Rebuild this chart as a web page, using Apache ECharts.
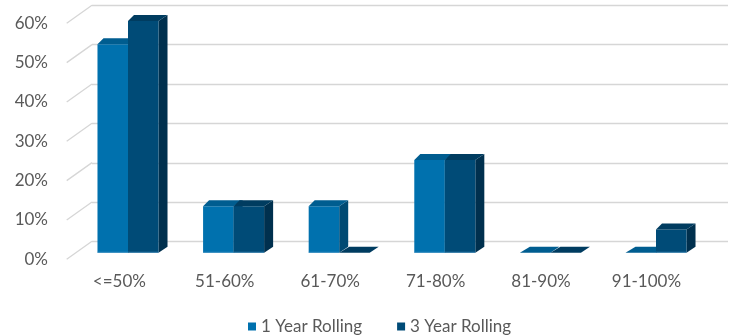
<!DOCTYPE html>
<html>
<head>
<meta charset="utf-8">
<script src="https://cdn.jsdelivr.net/npm/echarts@6/dist/echarts.min.js"></script>
<style>
  html, body { margin: 0; padding: 0; background: #ffffff; }
  #chart { width: 732px; height: 336px; }
</style>
</head>
<body>
<div id="chart"></div>
<script>
// Share of funds per range, rolling 1-year vs 3-year windows (in %)
const categories = ['<=50%', '51-60%', '61-70%', '71-80%', '81-90%', '91-100%'];
const oneYearRolling = [52.9, 11.8, 11.8, 23.5, 0, 0];
const threeYearRolling = [58.8, 11.8, 0, 23.5, 0, 5.9];
const seriesNames = ['1 Year Rolling', '3 Year Rolling'];
const yTicks = [0, 10, 20, 30, 40, 50, 60];

const FONT = 'Lato, "Open Sans", sans-serif';
const GRID_LINE = '#d6d6d6';
const TEXT = '#595959';

// Oblique offsets that fake the 3D depth
const WALL_DX = 25.3, WALL_DY = -18;     // front edge -> back wall
const BAR_DXL = 6, BAR_DXR = 9, BAR_DY = -6; // bar front face -> bar back face
const BAR_FRACTION = 0.289;              // one bar's width as share of the category band

// face colours per series: front, top, side
const palettes = [
  { front: '#0071ae', top: '#005d90', side: '#004a73' },
  { front: '#004b77', top: '#003c60', side: '#00304e' }
];

function barRenderer(seriesIdx) {
  const pal = palettes[seriesIdx];
  return function (params, api) {
    const idx = api.value(0);
    const val = api.value(1);
    const base = api.coord([idx, 0]);
    const top = api.coord([idx, val]);
    const band = api.size([1, 0])[0];
    const bw = band * BAR_FRACTION;
    const x0 = seriesIdx === 0 ? base[0] - bw : base[0];
    const x1 = x0 + bw;
    const yb = base[1];
    const yt = top[1];
    const children = [];
    if (yb - yt > 0.5) {
      children.push({
        type: 'polygon',
        shape: { points: [[x1, yt], [x1 + BAR_DXR, yt + BAR_DY], [x1 + BAR_DXR, yb + BAR_DY], [x1, yb]] },
        style: { fill: pal.side }
      });
      children.push({
        type: 'rect',
        shape: { x: x0, y: yt, width: bw, height: yb - yt },
        style: { fill: pal.front }
      });
      children.push({
        type: 'line',
        shape: { x1: x0, y1: yb - 0.5, x2: x1, y2: yb - 0.5 },
        style: { stroke: '#3d8fc2', lineWidth: 1, opacity: 0.6 }
      });
    }
    children.push({
      type: 'polygon',
      shape: { points: [[x0, yt], [x1, yt], [x1 + BAR_DXR, yt + BAR_DY], [x0 + BAR_DXL + (yb - yt > 0.5 ? 0 : 4), yt + BAR_DY]] },
      style: { fill: pal.top }
    });
    return { type: 'group', children: children };
  };
}

const chart = echarts.init(document.getElementById('chart'), null, { renderer: 'canvas' });

chart.setOption({
  animation: false,
  backgroundColor: '#ffffff',
  textStyle: { fontFamily: FONT },
  legend: {
    data: seriesNames,
    left: 243,
    top: 313,
    icon: 'rect',
    itemWidth: 8,
    itemHeight: 8,
    itemGap: 35,
    selectedMode: false,
    textStyle: { fontSize: 17, color: TEXT, fontFamily: FONT }
  },
  grid: [
    // back wall
    { left: 92, right: 4, top: 5, bottom: 94.3 },
    // front edge of the side wall (axis labels)
    { left: 66.7, right: 32.9, top: 23.3, bottom: 76.7 },
    // plane the bars stand in
    { left: 75.2, right: 23.2, top: 16.3, bottom: 83.3 }
  ],
  xAxis: [
    { gridIndex: 0, type: 'category', data: categories, show: false },
    {
      gridIndex: 1, type: 'category', data: categories,
      axisLine: { show: false }, axisTick: { show: false },
      axisLabel: { fontSize: 17, color: TEXT, margin: 14, fontFamily: FONT, interval: 0 }
    },
    { gridIndex: 2, type: 'category', data: categories, show: false }
  ],
  yAxis: [
    {
      gridIndex: 0, type: 'value', min: 0, max: 60, interval: 10,
      axisLine: { show: false }, axisTick: { show: false }, axisLabel: { show: false },
      splitLine: { show: true, lineStyle: { color: GRID_LINE, width: 1.3 } }
    },
    {
      gridIndex: 1, type: 'value', min: 0, max: 60, interval: 10,
      axisLine: { show: false }, axisTick: { show: false }, splitLine: { show: false },
      axisLabel: { formatter: '{value}%', fontSize: 17, color: TEXT, margin: 18.7, fontFamily: FONT }
    },
    { gridIndex: 2, type: 'value', min: 0, max: 60, interval: 10, show: false, splitLine: { show: false } }
  ],
  series: [
    {
      // side wall gridlines: from the front edge back to the wall
      type: 'custom',
      xAxisIndex: 1, yAxisIndex: 1,
      silent: true,
      data: yTicks.map(v => [0, v]),
      renderItem: function (params, api) {
        const y = api.coord([0, api.value(1)])[1];
        const x = params.coordSys.x;
        return {
          type: 'line',
          shape: { x1: x, y1: y, x2: x + WALL_DX, y2: y + WALL_DY },
          style: { stroke: GRID_LINE, lineWidth: 1.3 }
        };
      }
    },
    {
      name: seriesNames[0],
      type: 'custom',
      xAxisIndex: 2, yAxisIndex: 2,
      itemStyle: { color: palettes[0].front },
      encode: { x: 0, y: 1 },
      data: categories.map((c, i) => [i, oneYearRolling[i]]),
      renderItem: barRenderer(0)
    },
    {
      name: seriesNames[1],
      type: 'custom',
      xAxisIndex: 2, yAxisIndex: 2,
      itemStyle: { color: palettes[1].front },
      encode: { x: 0, y: 1 },
      data: categories.map((c, i) => [i, threeYearRolling[i]]),
      renderItem: barRenderer(1)
    }
  ]
});
</script>
</body>
</html>
